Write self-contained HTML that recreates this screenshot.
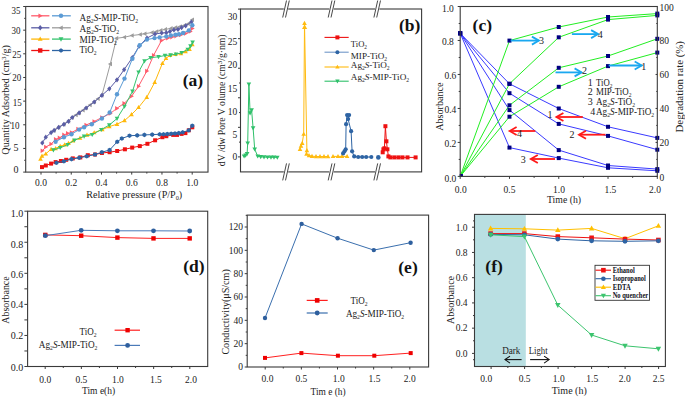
<!DOCTYPE html><html><head><meta charset="utf-8"><style>html,body{margin:0;padding:0;background:#fff;}svg{display:block}</style></head><body>
<svg width="685" height="397" viewBox="0 0 685 397">
<rect width="685" height="397" fill="#fff"/>
<line x1="23.2" y1="172.1" x2="25.7" y2="172.1" stroke="#3a3a3a" stroke-width="1" />
<line x1="24.2" y1="160.27" x2="25.7" y2="160.27" stroke="#3a3a3a" stroke-width="1" />
<line x1="23.2" y1="148.44" x2="25.7" y2="148.44" stroke="#3a3a3a" stroke-width="1" />
<line x1="24.2" y1="136.61" x2="25.7" y2="136.61" stroke="#3a3a3a" stroke-width="1" />
<line x1="23.2" y1="124.79" x2="25.7" y2="124.79" stroke="#3a3a3a" stroke-width="1" />
<line x1="24.2" y1="112.96" x2="25.7" y2="112.96" stroke="#3a3a3a" stroke-width="1" />
<line x1="23.2" y1="101.13" x2="25.7" y2="101.13" stroke="#3a3a3a" stroke-width="1" />
<line x1="24.2" y1="89.3" x2="25.7" y2="89.3" stroke="#3a3a3a" stroke-width="1" />
<line x1="23.2" y1="77.47" x2="25.7" y2="77.47" stroke="#3a3a3a" stroke-width="1" />
<line x1="24.2" y1="65.64" x2="25.7" y2="65.64" stroke="#3a3a3a" stroke-width="1" />
<line x1="23.2" y1="53.81" x2="25.7" y2="53.81" stroke="#3a3a3a" stroke-width="1" />
<line x1="24.2" y1="41.99" x2="25.7" y2="41.99" stroke="#3a3a3a" stroke-width="1" />
<line x1="23.2" y1="30.16" x2="25.7" y2="30.16" stroke="#3a3a3a" stroke-width="1" />
<line x1="24.2" y1="18.33" x2="25.7" y2="18.33" stroke="#3a3a3a" stroke-width="1" />
<line x1="23.2" y1="6.5" x2="25.7" y2="6.5" stroke="#3a3a3a" stroke-width="1" />
<text x="20.6" y="13.6" font-family='"Liberation Serif", serif' font-size="10" text-anchor="end" font-weight="normal" fill="#222" textLength="9" lengthAdjust="spacingAndGlyphs" >35</text>
<text x="20.6" y="33.8" font-family='"Liberation Serif", serif' font-size="10" text-anchor="end" font-weight="normal" fill="#222" textLength="9" lengthAdjust="spacingAndGlyphs" >30</text>
<text x="21.3" y="57.8" font-family='"Liberation Serif", serif' font-size="10" text-anchor="end" font-weight="normal" fill="#222" textLength="9" lengthAdjust="spacingAndGlyphs" >25</text>
<text x="21.3" y="80.5" font-family='"Liberation Serif", serif' font-size="10" text-anchor="end" font-weight="normal" fill="#222" textLength="9" lengthAdjust="spacingAndGlyphs" >20</text>
<text x="21.8" y="106" font-family='"Liberation Serif", serif' font-size="10" text-anchor="end" font-weight="normal" fill="#222" textLength="9" lengthAdjust="spacingAndGlyphs" >15</text>
<text x="19.6" y="128.6" font-family='"Liberation Serif", serif' font-size="10" text-anchor="end" font-weight="normal" fill="#222" textLength="9" lengthAdjust="spacingAndGlyphs" >10</text>
<text x="18.6" y="151.4" font-family='"Liberation Serif", serif' font-size="10" text-anchor="end" font-weight="normal" fill="#222" >5</text>
<text x="18.6" y="173.4" font-family='"Liberation Serif", serif' font-size="10" text-anchor="end" font-weight="normal" fill="#222" >0</text>
<line x1="41" y1="172.1" x2="41" y2="174.6" stroke="#3a3a3a" stroke-width="1" />
<line x1="56.12" y1="172.1" x2="56.12" y2="173.6" stroke="#3a3a3a" stroke-width="1" />
<line x1="71.24" y1="172.1" x2="71.24" y2="174.6" stroke="#3a3a3a" stroke-width="1" />
<line x1="86.36" y1="172.1" x2="86.36" y2="173.6" stroke="#3a3a3a" stroke-width="1" />
<line x1="101.48" y1="172.1" x2="101.48" y2="174.6" stroke="#3a3a3a" stroke-width="1" />
<line x1="116.6" y1="172.1" x2="116.6" y2="173.6" stroke="#3a3a3a" stroke-width="1" />
<line x1="131.72" y1="172.1" x2="131.72" y2="174.6" stroke="#3a3a3a" stroke-width="1" />
<line x1="146.84" y1="172.1" x2="146.84" y2="173.6" stroke="#3a3a3a" stroke-width="1" />
<line x1="161.96" y1="172.1" x2="161.96" y2="174.6" stroke="#3a3a3a" stroke-width="1" />
<line x1="177.08" y1="172.1" x2="177.08" y2="173.6" stroke="#3a3a3a" stroke-width="1" />
<line x1="192.2" y1="172.1" x2="192.2" y2="174.6" stroke="#3a3a3a" stroke-width="1" />
<text x="41" y="185.6" font-family='"Liberation Serif", serif' font-size="9.5" text-anchor="middle" font-weight="normal" fill="#222" >0.0</text>
<text x="71.24" y="185.6" font-family='"Liberation Serif", serif' font-size="9.5" text-anchor="middle" font-weight="normal" fill="#222" >0.2</text>
<text x="101.48" y="185.6" font-family='"Liberation Serif", serif' font-size="9.5" text-anchor="middle" font-weight="normal" fill="#222" >0.4</text>
<text x="131.72" y="185.6" font-family='"Liberation Serif", serif' font-size="9.5" text-anchor="middle" font-weight="normal" fill="#222" >0.6</text>
<text x="161.96" y="185.6" font-family='"Liberation Serif", serif' font-size="9.5" text-anchor="middle" font-weight="normal" fill="#222" >0.8</text>
<text x="192.2" y="185.6" font-family='"Liberation Serif", serif' font-size="9.5" text-anchor="middle" font-weight="normal" fill="#222" >1.0</text>
<text x="134.2" y="198.2" font-family='"Liberation Serif", serif' font-size="10" text-anchor="middle" font-weight="normal" fill="#222" textLength="96" lengthAdjust="spacingAndGlyphs" >Relative pressure (P/P<tspan baseline-shift="-1.8" font-size="62%">0</tspan>)</text>
<text x="8.8" y="99.9" font-family='"Liberation Serif", serif' font-size="10" text-anchor="middle" font-weight="normal" fill="#222" textLength="109.5" lengthAdjust="spacingAndGlyphs" transform="rotate(-90 8.8 99.9)" >Quantity Adsorbed (cm<tspan baseline-shift="3.5" font-size="70%">3</tspan>/g)</text>
<polyline points="54.1,130.4 58.6,127.4 63.9,124.3 68.5,121.3 72.2,117.5 76,115 79.1,112.9 83,110.3 86.1,108 90,105 94.2,102 98,98.7 101.9,95.3 110.3,64 116.5,38.3 124.4,37.2 132,35.5 140.2,34.5 144.8,33.7 152,32.5 156.6,31.5 160.7,30.4 165.3,29.4 170.9,28.4 175.5,27.6 180.1,26.6 184.2,25.5 188.2,23.8 192.3,19.7" fill="none" stroke="#9c9c9c" stroke-width="1" stroke-linejoin="round" />
<polygon points="51.69,130.4 55.78,128.09 55.78,132.71" fill="#9c9c9c"/>
<polygon points="56.19,127.4 60.28,125.09 60.28,129.71" fill="#9c9c9c"/>
<polygon points="61.48,124.3 65.58,121.99 65.58,126.61" fill="#9c9c9c"/>
<polygon points="66.08,121.3 70.18,118.99 70.18,123.61" fill="#9c9c9c"/>
<polygon points="69.78,117.5 73.88,115.19 73.88,119.81" fill="#9c9c9c"/>
<polygon points="73.58,115 77.68,112.69 77.68,117.31" fill="#9c9c9c"/>
<polygon points="76.68,112.9 80.78,110.59 80.78,115.21" fill="#9c9c9c"/>
<polygon points="80.58,110.3 84.68,107.99 84.68,112.61" fill="#9c9c9c"/>
<polygon points="83.68,108 87.78,105.69 87.78,110.31" fill="#9c9c9c"/>
<polygon points="87.58,105 91.68,102.69 91.68,107.31" fill="#9c9c9c"/>
<polygon points="91.78,102 95.88,99.69 95.88,104.31" fill="#9c9c9c"/>
<polygon points="95.58,98.7 99.68,96.39 99.68,101.01" fill="#9c9c9c"/>
<polygon points="99.48,95.3 103.58,92.99 103.58,97.61" fill="#9c9c9c"/>
<polygon points="107.88,64 111.98,61.69 111.98,66.31" fill="#9c9c9c"/>
<polygon points="114.08,38.3 118.18,35.99 118.18,40.61" fill="#9c9c9c"/>
<polygon points="121.98,37.2 126.08,34.89 126.08,39.51" fill="#9c9c9c"/>
<polygon points="129.59,35.5 133.68,33.19 133.68,37.81" fill="#9c9c9c"/>
<polygon points="137.78,34.5 141.88,32.19 141.88,36.81" fill="#9c9c9c"/>
<polygon points="142.39,33.7 146.48,31.39 146.48,36.01" fill="#9c9c9c"/>
<polygon points="149.59,32.5 153.68,30.19 153.68,34.81" fill="#9c9c9c"/>
<polygon points="154.19,31.5 158.28,29.19 158.28,33.81" fill="#9c9c9c"/>
<polygon points="158.28,30.4 162.38,28.09 162.38,32.71" fill="#9c9c9c"/>
<polygon points="162.89,29.4 166.98,27.09 166.98,31.71" fill="#9c9c9c"/>
<polygon points="168.49,28.4 172.58,26.09 172.58,30.71" fill="#9c9c9c"/>
<polygon points="173.09,27.6 177.18,25.29 177.18,29.91" fill="#9c9c9c"/>
<polygon points="177.69,26.6 181.78,24.29 181.78,28.91" fill="#9c9c9c"/>
<polygon points="181.78,25.5 185.88,23.19 185.88,27.81" fill="#9c9c9c"/>
<polygon points="185.78,23.8 189.88,21.49 189.88,26.11" fill="#9c9c9c"/>
<polygon points="189.89,19.7 193.98,17.39 193.98,22.01" fill="#9c9c9c"/>
<polyline points="42.3,142.9 45.8,137.2 51.1,132.6 54.1,130.4 58.6,127.4 63.9,124.3 68.5,121.3 72.2,117.5 79.1,112.9 86.1,108 94.2,102 101.9,95.3 109.3,88.8 117,79.8 124.1,69.7 132.4,57.5 139.1,46.2 147,38 155,34 161.7,33 166.3,32.7 169.9,31.5 173.9,29.9 178,29.4 181.6,27.6 185.7,25.8 191.3,22.1" fill="none" stroke="#5a5da5" stroke-width="1" stroke-linejoin="round" />
<polygon points="42.3,140.28 44.4,142.9 42.3,145.53 40.2,142.9" fill="#5a5da5"/>
<polygon points="45.8,134.57 47.9,137.2 45.8,139.82 43.7,137.2" fill="#5a5da5"/>
<polygon points="51.1,129.97 53.2,132.6 51.1,135.22 49,132.6" fill="#5a5da5"/>
<polygon points="54.1,127.78 56.2,130.4 54.1,133.03 52,130.4" fill="#5a5da5"/>
<polygon points="58.6,124.78 60.7,127.4 58.6,130.03 56.5,127.4" fill="#5a5da5"/>
<polygon points="63.9,121.67 66,124.3 63.9,126.92 61.8,124.3" fill="#5a5da5"/>
<polygon points="68.5,118.67 70.6,121.3 68.5,123.92 66.4,121.3" fill="#5a5da5"/>
<polygon points="72.2,114.88 74.3,117.5 72.2,120.12 70.1,117.5" fill="#5a5da5"/>
<polygon points="79.1,110.28 81.2,112.9 79.1,115.53 77,112.9" fill="#5a5da5"/>
<polygon points="86.1,105.38 88.2,108 86.1,110.62 84,108" fill="#5a5da5"/>
<polygon points="94.2,99.38 96.3,102 94.2,104.62 92.1,102" fill="#5a5da5"/>
<polygon points="101.9,92.67 104,95.3 101.9,97.92 99.8,95.3" fill="#5a5da5"/>
<polygon points="109.3,86.17 111.4,88.8 109.3,91.42 107.2,88.8" fill="#5a5da5"/>
<polygon points="117,77.17 119.1,79.8 117,82.42 114.9,79.8" fill="#5a5da5"/>
<polygon points="124.1,67.08 126.2,69.7 124.1,72.33 122,69.7" fill="#5a5da5"/>
<polygon points="132.4,54.88 134.5,57.5 132.4,60.12 130.3,57.5" fill="#5a5da5"/>
<polygon points="139.1,43.58 141.2,46.2 139.1,48.83 137,46.2" fill="#5a5da5"/>
<polygon points="147,35.38 149.1,38 147,40.62 144.9,38" fill="#5a5da5"/>
<polygon points="155,31.38 157.1,34 155,36.62 152.9,34" fill="#5a5da5"/>
<polygon points="161.7,30.38 163.8,33 161.7,35.62 159.6,33" fill="#5a5da5"/>
<polygon points="166.3,30.08 168.4,32.7 166.3,35.33 164.2,32.7" fill="#5a5da5"/>
<polygon points="169.9,28.88 172,31.5 169.9,34.12 167.8,31.5" fill="#5a5da5"/>
<polygon points="173.9,27.27 176,29.9 173.9,32.52 171.8,29.9" fill="#5a5da5"/>
<polygon points="178,26.77 180.1,29.4 178,32.02 175.9,29.4" fill="#5a5da5"/>
<polygon points="181.6,24.98 183.7,27.6 181.6,30.23 179.5,27.6" fill="#5a5da5"/>
<polygon points="185.7,23.18 187.8,25.8 185.7,28.43 183.6,25.8" fill="#5a5da5"/>
<polygon points="191.3,19.48 193.4,22.1 191.3,24.73 189.2,22.1" fill="#5a5da5"/>
<polyline points="42.3,150.8 45.8,147 51.1,144 55.6,139.4 59.4,137.9 63.9,134.9 67.7,133.4 71.5,132.6 78,129 86.1,125 94.2,121.5 101.9,117.5 110.3,113.5 116.8,108.4 124.1,103.4 131.5,96.3 138.6,86.2 146.8,71.1 153.6,55.3 161.5,40.6 167.8,38.1 171.9,37.1 176,36.1 180.6,35 185.7,33.5 190.3,31.5 192.3,28.4" fill="none" stroke="#ff5c6c" stroke-width="1" stroke-linejoin="round" />
<polygon points="44.71,150.8 40.62,148.49 40.62,153.11" fill="#ff5c6c"/>
<polygon points="48.21,147 44.12,144.69 44.12,149.31" fill="#ff5c6c"/>
<polygon points="53.52,144 49.42,141.69 49.42,146.31" fill="#ff5c6c"/>
<polygon points="58.02,139.4 53.92,137.09 53.92,141.71" fill="#ff5c6c"/>
<polygon points="61.81,137.9 57.72,135.59 57.72,140.21" fill="#ff5c6c"/>
<polygon points="66.31,134.9 62.22,132.59 62.22,137.21" fill="#ff5c6c"/>
<polygon points="70.12,133.4 66.02,131.09 66.02,135.71" fill="#ff5c6c"/>
<polygon points="73.92,132.6 69.82,130.29 69.82,134.91" fill="#ff5c6c"/>
<polygon points="80.42,129 76.32,126.69 76.32,131.31" fill="#ff5c6c"/>
<polygon points="88.52,125 84.42,122.69 84.42,127.31" fill="#ff5c6c"/>
<polygon points="96.62,121.5 92.52,119.19 92.52,123.81" fill="#ff5c6c"/>
<polygon points="104.32,117.5 100.22,115.19 100.22,119.81" fill="#ff5c6c"/>
<polygon points="112.72,113.5 108.62,111.19 108.62,115.81" fill="#ff5c6c"/>
<polygon points="119.22,108.4 115.12,106.09 115.12,110.71" fill="#ff5c6c"/>
<polygon points="126.52,103.4 122.42,101.09 122.42,105.71" fill="#ff5c6c"/>
<polygon points="133.91,96.3 129.82,93.99 129.82,98.61" fill="#ff5c6c"/>
<polygon points="141.01,86.2 136.92,83.89 136.92,88.51" fill="#ff5c6c"/>
<polygon points="149.22,71.1 145.12,68.79 145.12,73.41" fill="#ff5c6c"/>
<polygon points="156.01,55.3 151.92,52.99 151.92,57.61" fill="#ff5c6c"/>
<polygon points="163.91,40.6 159.82,38.29 159.82,42.91" fill="#ff5c6c"/>
<polygon points="170.22,38.1 166.12,35.79 166.12,40.41" fill="#ff5c6c"/>
<polygon points="174.31,37.1 170.22,34.79 170.22,39.41" fill="#ff5c6c"/>
<polygon points="178.41,36.1 174.32,33.79 174.32,38.41" fill="#ff5c6c"/>
<polygon points="183.01,35 178.92,32.69 178.92,37.31" fill="#ff5c6c"/>
<polygon points="188.11,33.5 184.02,31.19 184.02,35.81" fill="#ff5c6c"/>
<polygon points="192.72,31.5 188.62,29.19 188.62,33.81" fill="#ff5c6c"/>
<polygon points="194.72,28.4 190.62,26.09 190.62,30.71" fill="#ff5c6c"/>
<polyline points="55.6,141.7 63.9,137.2 71.5,134.2 79.1,129.6 84.1,127.2 91.8,124.2 101.9,118.5 109.7,112.5 117,94.3 124.5,78.6 132.4,58.7 139.7,45.3 146.9,39.6 154.5,38.1 159.6,37.4 166.3,36.4 170.9,35.5 175.5,34.7 179,34.3 183.1,33 188.8,30.4 192.3,25.3" fill="none" stroke="#5b9bd5" stroke-width="1" stroke-linejoin="round" />
<circle cx="55.6" cy="141.7" r="2.2" fill="#5b9bd5"/>
<circle cx="63.9" cy="137.2" r="2.2" fill="#5b9bd5"/>
<circle cx="71.5" cy="134.2" r="2.2" fill="#5b9bd5"/>
<circle cx="79.1" cy="129.6" r="2.2" fill="#5b9bd5"/>
<circle cx="84.1" cy="127.2" r="2.2" fill="#5b9bd5"/>
<circle cx="91.8" cy="124.2" r="2.2" fill="#5b9bd5"/>
<circle cx="101.9" cy="118.5" r="2.2" fill="#5b9bd5"/>
<circle cx="109.7" cy="112.5" r="2.2" fill="#5b9bd5"/>
<circle cx="117" cy="94.3" r="2.2" fill="#5b9bd5"/>
<circle cx="124.5" cy="78.6" r="2.2" fill="#5b9bd5"/>
<circle cx="132.4" cy="58.7" r="2.2" fill="#5b9bd5"/>
<circle cx="139.7" cy="45.3" r="2.2" fill="#5b9bd5"/>
<circle cx="146.9" cy="39.6" r="2.2" fill="#5b9bd5"/>
<circle cx="154.5" cy="38.1" r="2.2" fill="#5b9bd5"/>
<circle cx="159.6" cy="37.4" r="2.2" fill="#5b9bd5"/>
<circle cx="166.3" cy="36.4" r="2.2" fill="#5b9bd5"/>
<circle cx="170.9" cy="35.5" r="2.2" fill="#5b9bd5"/>
<circle cx="175.5" cy="34.7" r="2.2" fill="#5b9bd5"/>
<circle cx="179" cy="34.3" r="2.2" fill="#5b9bd5"/>
<circle cx="183.1" cy="33" r="2.2" fill="#5b9bd5"/>
<circle cx="188.8" cy="30.4" r="2.2" fill="#5b9bd5"/>
<circle cx="192.3" cy="25.3" r="2.2" fill="#5b9bd5"/>
<polyline points="40.5,159.1 42,156 45.8,153.8 51.1,149.2 55.6,148.5 60.2,146.2 64.7,144.7 68.5,143.2 73,140.9 80,138 87,135 94.2,132.6 102.3,129.6 109.3,126.6 117,124.2 124.5,120.5 131.5,114.5 138.6,107.4 146.8,97.2 154.7,82.4 162.4,63.3 166,58.4 170,55.3 175.5,54.3 181,53.6 185.5,51.5 189.5,49.2 192.3,44.5" fill="none" stroke="#ffb80a" stroke-width="1" stroke-linejoin="round" />
<polygon points="40.5,156.69 42.81,160.78 38.19,160.78" fill="#ffb80a"/>
<polygon points="42,153.59 44.31,157.68 39.69,157.68" fill="#ffb80a"/>
<polygon points="45.8,151.39 48.11,155.48 43.49,155.48" fill="#ffb80a"/>
<polygon points="51.1,146.78 53.41,150.88 48.79,150.88" fill="#ffb80a"/>
<polygon points="55.6,146.09 57.91,150.18 53.29,150.18" fill="#ffb80a"/>
<polygon points="60.2,143.78 62.51,147.88 57.89,147.88" fill="#ffb80a"/>
<polygon points="64.7,142.28 67.01,146.38 62.39,146.38" fill="#ffb80a"/>
<polygon points="68.5,140.78 70.81,144.88 66.19,144.88" fill="#ffb80a"/>
<polygon points="73,138.49 75.31,142.58 70.69,142.58" fill="#ffb80a"/>
<polygon points="80,135.59 82.31,139.68 77.69,139.68" fill="#ffb80a"/>
<polygon points="87,132.59 89.31,136.68 84.69,136.68" fill="#ffb80a"/>
<polygon points="94.2,130.19 96.51,134.28 91.89,134.28" fill="#ffb80a"/>
<polygon points="102.3,127.18 104.61,131.28 99.99,131.28" fill="#ffb80a"/>
<polygon points="109.3,124.18 111.61,128.28 106.99,128.28" fill="#ffb80a"/>
<polygon points="117,121.78 119.31,125.88 114.69,125.88" fill="#ffb80a"/>
<polygon points="124.5,118.08 126.81,122.18 122.19,122.18" fill="#ffb80a"/>
<polygon points="131.5,112.08 133.81,116.18 129.19,116.18" fill="#ffb80a"/>
<polygon points="138.6,104.98 140.91,109.08 136.29,109.08" fill="#ffb80a"/>
<polygon points="146.8,94.78 149.11,98.88 144.49,98.88" fill="#ffb80a"/>
<polygon points="154.7,79.98 157.01,84.08 152.39,84.08" fill="#ffb80a"/>
<polygon points="162.4,60.88 164.71,64.98 160.09,64.98" fill="#ffb80a"/>
<polygon points="166,55.98 168.31,60.08 163.69,60.08" fill="#ffb80a"/>
<polygon points="170,52.88 172.31,56.98 167.69,56.98" fill="#ffb80a"/>
<polygon points="175.5,51.88 177.81,55.98 173.19,55.98" fill="#ffb80a"/>
<polygon points="181,51.19 183.31,55.28 178.69,55.28" fill="#ffb80a"/>
<polygon points="185.5,49.09 187.81,53.18 183.19,53.18" fill="#ffb80a"/>
<polygon points="189.5,46.79 191.81,50.88 187.19,50.88" fill="#ffb80a"/>
<polygon points="192.3,42.09 194.61,46.18 189.99,46.18" fill="#ffb80a"/>
<polyline points="53.4,150 60.2,147.7 67.7,144.7 74.5,140.2 84.1,136.3 92.2,134.6 101.3,129.6 109.3,125 117,118.5 124.5,106.4 132.5,91.3 138.6,72.1 144.5,61 150.6,57.7 158.5,56.8 165,55.5 170.6,55 176,54.2 181.7,52.7 187.8,49.4 190.5,46 192.6,42.3" fill="none" stroke="#35c46e" stroke-width="1" stroke-linejoin="round" />
<polygon points="53.4,152.41 55.71,148.32 51.09,148.32" fill="#35c46e"/>
<polygon points="60.2,150.11 62.51,146.02 57.89,146.02" fill="#35c46e"/>
<polygon points="67.7,147.11 70.01,143.02 65.39,143.02" fill="#35c46e"/>
<polygon points="74.5,142.61 76.81,138.52 72.19,138.52" fill="#35c46e"/>
<polygon points="84.1,138.72 86.41,134.62 81.79,134.62" fill="#35c46e"/>
<polygon points="92.2,137.01 94.51,132.92 89.89,132.92" fill="#35c46e"/>
<polygon points="101.3,132.01 103.61,127.92 98.99,127.92" fill="#35c46e"/>
<polygon points="109.3,127.42 111.61,123.32 106.99,123.32" fill="#35c46e"/>
<polygon points="117,120.92 119.31,116.82 114.69,116.82" fill="#35c46e"/>
<polygon points="124.5,108.82 126.81,104.72 122.19,104.72" fill="#35c46e"/>
<polygon points="132.5,93.72 134.81,89.62 130.19,89.62" fill="#35c46e"/>
<polygon points="138.6,74.52 140.91,70.42 136.29,70.42" fill="#35c46e"/>
<polygon points="144.5,63.41 146.81,59.32 142.19,59.32" fill="#35c46e"/>
<polygon points="150.6,60.12 152.91,56.02 148.29,56.02" fill="#35c46e"/>
<polygon points="158.5,59.21 160.81,55.12 156.19,55.12" fill="#35c46e"/>
<polygon points="165,57.91 167.31,53.82 162.69,53.82" fill="#35c46e"/>
<polygon points="170.6,57.41 172.91,53.32 168.29,53.32" fill="#35c46e"/>
<polygon points="176,56.62 178.31,52.52 173.69,52.52" fill="#35c46e"/>
<polygon points="181.7,55.12 184.01,51.02 179.39,51.02" fill="#35c46e"/>
<polygon points="187.8,51.81 190.11,47.72 185.49,47.72" fill="#35c46e"/>
<polygon points="190.5,48.41 192.81,44.32 188.19,44.32" fill="#35c46e"/>
<polygon points="192.6,44.71 194.91,40.62 190.29,40.62" fill="#35c46e"/>
<polyline points="42,167.1 45.8,165.5 51.1,163.6 55.6,162.1 60.9,161 66.2,159.8 72.8,158.4 80.3,157.4 87.8,155.2 95,154.5 101.9,153 109.6,152.2 117.2,151 124.9,149.3 132.2,147.6 139.8,146.1 147.4,143.8 155.1,140.3 162.4,137.2 166.3,136.2 173.2,134.9 177,134.9 181.6,133.9 185.4,133.1 188.8,130.3 192.3,127.3" fill="none" stroke="#ee1111" stroke-width="1" stroke-linejoin="round" />
<rect x="40" y="165.1" width="4" height="4" fill="#ee1111"/>
<rect x="43.8" y="163.5" width="4" height="4" fill="#ee1111"/>
<rect x="49.1" y="161.6" width="4" height="4" fill="#ee1111"/>
<rect x="53.6" y="160.1" width="4" height="4" fill="#ee1111"/>
<rect x="58.9" y="159" width="4" height="4" fill="#ee1111"/>
<rect x="64.2" y="157.8" width="4" height="4" fill="#ee1111"/>
<rect x="70.8" y="156.4" width="4" height="4" fill="#ee1111"/>
<rect x="78.3" y="155.4" width="4" height="4" fill="#ee1111"/>
<rect x="85.8" y="153.2" width="4" height="4" fill="#ee1111"/>
<rect x="93" y="152.5" width="4" height="4" fill="#ee1111"/>
<rect x="99.9" y="151" width="4" height="4" fill="#ee1111"/>
<rect x="107.6" y="150.2" width="4" height="4" fill="#ee1111"/>
<rect x="115.2" y="149" width="4" height="4" fill="#ee1111"/>
<rect x="122.9" y="147.3" width="4" height="4" fill="#ee1111"/>
<rect x="130.2" y="145.6" width="4" height="4" fill="#ee1111"/>
<rect x="137.8" y="144.1" width="4" height="4" fill="#ee1111"/>
<rect x="145.4" y="141.8" width="4" height="4" fill="#ee1111"/>
<rect x="153.1" y="138.3" width="4" height="4" fill="#ee1111"/>
<rect x="160.4" y="135.2" width="4" height="4" fill="#ee1111"/>
<rect x="164.3" y="134.2" width="4" height="4" fill="#ee1111"/>
<rect x="171.2" y="132.9" width="4" height="4" fill="#ee1111"/>
<rect x="175" y="132.9" width="4" height="4" fill="#ee1111"/>
<rect x="179.6" y="131.9" width="4" height="4" fill="#ee1111"/>
<rect x="183.4" y="131.1" width="4" height="4" fill="#ee1111"/>
<rect x="186.8" y="128.3" width="4" height="4" fill="#ee1111"/>
<rect x="190.3" y="125.3" width="4" height="4" fill="#ee1111"/>
<polyline points="56.4,162.8 63.9,161.3 71.5,159.1 79.2,157.8 86.7,156.3 95,154.5 101.9,152.2 109.6,150 117.2,141.8 121.8,138.5 129.5,135.7 137.2,135.4 144.4,134.9 152.2,134.6 159.7,134.3 163.5,134.3 167.3,134 171.2,133.7 175,133.5 178.8,133.1 182.7,132.3 188.8,130.3 192.3,125.7" fill="none" stroke="#2e64a4" stroke-width="1" stroke-linejoin="round" />
<polygon points="58.39,163.95 56.4,165.1 54.41,163.95 54.41,161.65 56.4,160.5 58.39,161.65" fill="#2e64a4"/>
<polygon points="65.89,162.45 63.9,163.6 61.91,162.45 61.91,160.15 63.9,159 65.89,160.15" fill="#2e64a4"/>
<polygon points="73.49,160.25 71.5,161.4 69.51,160.25 69.51,157.95 71.5,156.8 73.49,157.95" fill="#2e64a4"/>
<polygon points="81.19,158.95 79.2,160.1 77.21,158.95 77.21,156.65 79.2,155.5 81.19,156.65" fill="#2e64a4"/>
<polygon points="88.69,157.45 86.7,158.6 84.71,157.45 84.71,155.15 86.7,154 88.69,155.15" fill="#2e64a4"/>
<polygon points="96.99,155.65 95,156.8 93.01,155.65 93.01,153.35 95,152.2 96.99,153.35" fill="#2e64a4"/>
<polygon points="103.89,153.35 101.9,154.5 99.91,153.35 99.91,151.05 101.9,149.9 103.89,151.05" fill="#2e64a4"/>
<polygon points="111.59,151.15 109.6,152.3 107.61,151.15 107.61,148.85 109.6,147.7 111.59,148.85" fill="#2e64a4"/>
<polygon points="119.19,142.95 117.2,144.1 115.21,142.95 115.21,140.65 117.2,139.5 119.19,140.65" fill="#2e64a4"/>
<polygon points="123.79,139.65 121.8,140.8 119.81,139.65 119.81,137.35 121.8,136.2 123.79,137.35" fill="#2e64a4"/>
<polygon points="131.49,136.85 129.5,138 127.51,136.85 127.51,134.55 129.5,133.4 131.49,134.55" fill="#2e64a4"/>
<polygon points="139.19,136.55 137.2,137.7 135.21,136.55 135.21,134.25 137.2,133.1 139.19,134.25" fill="#2e64a4"/>
<polygon points="146.39,136.05 144.4,137.2 142.41,136.05 142.41,133.75 144.4,132.6 146.39,133.75" fill="#2e64a4"/>
<polygon points="154.19,135.75 152.2,136.9 150.21,135.75 150.21,133.45 152.2,132.3 154.19,133.45" fill="#2e64a4"/>
<polygon points="161.69,135.45 159.7,136.6 157.71,135.45 157.71,133.15 159.7,132 161.69,133.15" fill="#2e64a4"/>
<polygon points="165.49,135.45 163.5,136.6 161.51,135.45 161.51,133.15 163.5,132 165.49,133.15" fill="#2e64a4"/>
<polygon points="169.29,135.15 167.3,136.3 165.31,135.15 165.31,132.85 167.3,131.7 169.29,132.85" fill="#2e64a4"/>
<polygon points="173.19,134.85 171.2,136 169.21,134.85 169.21,132.55 171.2,131.4 173.19,132.55" fill="#2e64a4"/>
<polygon points="176.99,134.65 175,135.8 173.01,134.65 173.01,132.35 175,131.2 176.99,132.35" fill="#2e64a4"/>
<polygon points="180.79,134.25 178.8,135.4 176.81,134.25 176.81,131.95 178.8,130.8 180.79,131.95" fill="#2e64a4"/>
<polygon points="184.69,133.45 182.7,134.6 180.71,133.45 180.71,131.15 182.7,130 184.69,131.15" fill="#2e64a4"/>
<polygon points="190.79,131.45 188.8,132.6 186.81,131.45 186.81,129.15 188.8,128 190.79,129.15" fill="#2e64a4"/>
<polygon points="194.29,126.85 192.3,128 190.31,126.85 190.31,124.55 192.3,123.4 194.29,124.55" fill="#2e64a4"/>
<line x1="31.2" y1="15.8" x2="49.4" y2="15.8" stroke="#ff5c6c" stroke-width="1.3" />
<polygon points="42.73,15.8 38.44,13.38 38.44,18.22" fill="#ff5c6c"/>
<line x1="52" y1="15.8" x2="70.8" y2="15.8" stroke="#5b9bd5" stroke-width="1.3" />
<circle cx="61" cy="15.8" r="2.2" fill="#5b9bd5"/>
<text x="79.6" y="21.2" font-family='"Liberation Serif", serif' font-size="9.5" text-anchor="start" font-weight="normal" fill="#222" textLength="58.5" lengthAdjust="spacingAndGlyphs" >Ag<tspan baseline-shift="-1.8" font-size="62%">2</tspan><tspan font-style="italic">S</tspan>-MIP-TiO<tspan baseline-shift="-1.8" font-size="62%">2</tspan></text>
<line x1="31.2" y1="27.8" x2="49.4" y2="27.8" stroke="#5a5da5" stroke-width="1.3" />
<polygon points="40.2,25.05 42.4,27.8 40.2,30.55 38,27.8" fill="#5a5da5"/>
<line x1="52" y1="27.8" x2="70.8" y2="27.8" stroke="#9c9c9c" stroke-width="1.3" />
<polygon points="58.47,27.8 62.76,25.38 62.76,30.22" fill="#9c9c9c"/>
<text x="79.6" y="32" font-family='"Liberation Serif", serif' font-size="9.5" text-anchor="start" font-weight="normal" fill="#222" textLength="39.6" lengthAdjust="spacingAndGlyphs" >Ag<tspan baseline-shift="-1.8" font-size="62%">2</tspan><tspan font-style="italic">S</tspan>-TiO<tspan baseline-shift="-1.8" font-size="62%">2</tspan></text>
<line x1="31.2" y1="39.1" x2="49.4" y2="39.1" stroke="#ffb80a" stroke-width="1.3" />
<polygon points="40.2,36.57 42.62,40.86 37.78,40.86" fill="#ffb80a"/>
<line x1="52" y1="39.1" x2="70.8" y2="39.1" stroke="#35c46e" stroke-width="1.3" />
<polygon points="61,41.63 63.42,37.34 58.58,37.34" fill="#35c46e"/>
<text x="79.6" y="43.1" font-family='"Liberation Serif", serif' font-size="9.5" text-anchor="start" font-weight="normal" fill="#222" textLength="37.2" lengthAdjust="spacingAndGlyphs" >MIP-TiO<tspan baseline-shift="-1.8" font-size="62%">2</tspan></text>
<line x1="31.2" y1="50.5" x2="49.4" y2="50.5" stroke="#ee1111" stroke-width="1.3" />
<rect x="38" y="48.3" width="4.4" height="4.4" fill="#ee1111"/>
<line x1="52" y1="50.5" x2="70.8" y2="50.5" stroke="#2e64a4" stroke-width="1.3" />
<polygon points="62.91,51.6 61,52.7 59.09,51.6 59.09,49.4 61,48.3 62.91,49.4" fill="#2e64a4"/>
<text x="79.6" y="53.4" font-family='"Liberation Serif", serif' font-size="9.5" text-anchor="start" font-weight="normal" fill="#222" textLength="17" lengthAdjust="spacingAndGlyphs" >TiO<tspan baseline-shift="-1.8" font-size="62%">2</tspan></text>
<text x="193" y="86.4" font-family='"Liberation Serif", serif' font-size="17.5" text-anchor="middle" font-weight="bold" fill="#111" >(a)</text>
<rect x="25.7" y="6.5" width="182.3" height="165.6" fill="none" stroke="#3a3a3a" stroke-width="1.1"/>
<rect x="240.5" y="9.0" width="181.10000000000002" height="162.9" fill="none" stroke="#3a3a3a" stroke-width="1.1"/>
<line x1="238" y1="9.1" x2="240.5" y2="9.1" stroke="#3a3a3a" stroke-width="1" />
<line x1="239" y1="23.88" x2="240.5" y2="23.88" stroke="#3a3a3a" stroke-width="1" />
<line x1="238" y1="38.66" x2="240.5" y2="38.66" stroke="#3a3a3a" stroke-width="1" />
<line x1="239" y1="53.44" x2="240.5" y2="53.44" stroke="#3a3a3a" stroke-width="1" />
<line x1="238" y1="68.22" x2="240.5" y2="68.22" stroke="#3a3a3a" stroke-width="1" />
<line x1="239" y1="83" x2="240.5" y2="83" stroke="#3a3a3a" stroke-width="1" />
<line x1="238" y1="97.78" x2="240.5" y2="97.78" stroke="#3a3a3a" stroke-width="1" />
<line x1="239" y1="112.56" x2="240.5" y2="112.56" stroke="#3a3a3a" stroke-width="1" />
<line x1="238" y1="127.34" x2="240.5" y2="127.34" stroke="#3a3a3a" stroke-width="1" />
<line x1="239" y1="142.12" x2="240.5" y2="142.12" stroke="#3a3a3a" stroke-width="1" />
<line x1="238" y1="156.9" x2="240.5" y2="156.9" stroke="#3a3a3a" stroke-width="1" />
<text x="237.3" y="20.3" font-family='"Liberation Serif", serif' font-size="9.5" text-anchor="end" font-weight="normal" fill="#222" >30</text>
<text x="237.3" y="44.5" font-family='"Liberation Serif", serif' font-size="9.5" text-anchor="end" font-weight="normal" fill="#222" >25</text>
<text x="237.3" y="68" font-family='"Liberation Serif", serif' font-size="9.5" text-anchor="end" font-weight="normal" fill="#222" >20</text>
<text x="237.3" y="92.1" font-family='"Liberation Serif", serif' font-size="9.5" text-anchor="end" font-weight="normal" fill="#222" >15</text>
<text x="237.3" y="114.8" font-family='"Liberation Serif", serif' font-size="9.5" text-anchor="end" font-weight="normal" fill="#222" >10</text>
<text x="237.3" y="137.7" font-family='"Liberation Serif", serif' font-size="9.5" text-anchor="end" font-weight="normal" fill="#222" >5</text>
<text x="237.3" y="159.7" font-family='"Liberation Serif", serif' font-size="9.5" text-anchor="end" font-weight="normal" fill="#222" >0</text>
<text x="225.5" y="100.3" font-family='"Liberation Serif", serif' font-size="10" text-anchor="middle" font-weight="normal" fill="#222" textLength="131.8" lengthAdjust="spacingAndGlyphs" transform="rotate(-90 225.5 100.3)" >dV /dw Pore V olume (cm<tspan baseline-shift="3.5" font-size="70%">3</tspan>/g·nm)</text>
<rect x="283.8" y="7.0" width="4.4" height="4" fill="#fff"/>
<line x1="282.7" y1="17.5" x2="286.5" y2="0.5" stroke="#333" stroke-width="0.9" />
<line x1="285.5" y1="17.5" x2="289.3" y2="0.5" stroke="#333" stroke-width="0.9" />
<rect x="283.8" y="169.9" width="4.4" height="4" fill="#fff"/>
<line x1="282.7" y1="180.4" x2="286.5" y2="163.4" stroke="#333" stroke-width="0.9" />
<line x1="285.5" y1="180.4" x2="289.3" y2="163.4" stroke="#333" stroke-width="0.9" />
<rect x="329.3" y="7.0" width="4.4" height="4" fill="#fff"/>
<line x1="328.2" y1="17.5" x2="332" y2="0.5" stroke="#333" stroke-width="0.9" />
<line x1="331" y1="17.5" x2="334.8" y2="0.5" stroke="#333" stroke-width="0.9" />
<rect x="329.3" y="169.9" width="4.4" height="4" fill="#fff"/>
<line x1="328.2" y1="180.4" x2="332" y2="163.4" stroke="#333" stroke-width="0.9" />
<line x1="331" y1="180.4" x2="334.8" y2="163.4" stroke="#333" stroke-width="0.9" />
<rect x="375.0" y="7.0" width="4.4" height="4" fill="#fff"/>
<line x1="373.9" y1="17.5" x2="377.7" y2="0.5" stroke="#333" stroke-width="0.9" />
<line x1="376.7" y1="17.5" x2="380.5" y2="0.5" stroke="#333" stroke-width="0.9" />
<rect x="375.0" y="169.9" width="4.4" height="4" fill="#fff"/>
<line x1="373.9" y1="180.4" x2="377.7" y2="163.4" stroke="#333" stroke-width="0.9" />
<line x1="376.7" y1="180.4" x2="380.5" y2="163.4" stroke="#333" stroke-width="0.9" />
<polyline points="244.1,156.2 245.6,155.3 247.1,153.8 247.7,143.2 248.9,84.2 250.1,113 251.6,110 253.1,128 254.7,149.2 257.7,156.2 260.7,156.8 264,157 267.5,157.2 271,157.3 274,157.3 277.3,157.4" fill="none" stroke="#2fc06a" stroke-width="1" stroke-linejoin="round" />
<polygon points="244.1,158.61 246.41,154.52 241.79,154.52" fill="#2fc06a"/>
<polygon points="245.6,157.72 247.91,153.62 243.29,153.62" fill="#2fc06a"/>
<polygon points="247.1,156.22 249.41,152.12 244.79,152.12" fill="#2fc06a"/>
<polygon points="247.7,145.61 250.01,141.52 245.39,141.52" fill="#2fc06a"/>
<polygon points="248.9,86.62 251.21,82.52 246.59,82.52" fill="#2fc06a"/>
<polygon points="250.1,115.42 252.41,111.32 247.79,111.32" fill="#2fc06a"/>
<polygon points="251.6,112.42 253.91,108.32 249.29,108.32" fill="#2fc06a"/>
<polygon points="253.1,130.41 255.41,126.32 250.79,126.32" fill="#2fc06a"/>
<polygon points="254.7,151.61 257.01,147.52 252.39,147.52" fill="#2fc06a"/>
<polygon points="257.7,158.61 260.01,154.52 255.39,154.52" fill="#2fc06a"/>
<polygon points="260.7,159.22 263.01,155.12 258.39,155.12" fill="#2fc06a"/>
<polygon points="264,159.41 266.31,155.32 261.69,155.32" fill="#2fc06a"/>
<polygon points="267.5,159.61 269.81,155.52 265.19,155.52" fill="#2fc06a"/>
<polygon points="271,159.72 273.31,155.62 268.69,155.62" fill="#2fc06a"/>
<polygon points="274,159.72 276.31,155.62 271.69,155.62" fill="#2fc06a"/>
<polygon points="277.3,159.81 279.61,155.72 274.99,155.72" fill="#2fc06a"/>
<polyline points="300,149.2 301,146 302.2,143.2 303.7,134.1 304.5,23.2 306.9,150.5 306.5,154 309,155.5 312,156.2 316,156.5 320,156.5 324,156.5 328,156.5" fill="none" stroke="#ffbb10" stroke-width="1" stroke-linejoin="round" />
<polygon points="300,146.78 302.31,150.88 297.69,150.88" fill="#ffbb10"/>
<polygon points="301,143.59 303.31,147.68 298.69,147.68" fill="#ffbb10"/>
<polygon points="302.2,140.78 304.51,144.88 299.89,144.88" fill="#ffbb10"/>
<polygon points="303.7,131.69 306.01,135.78 301.39,135.78" fill="#ffbb10"/>
<polygon points="304.5,20.79 306.81,24.88 302.19,24.88" fill="#ffbb10"/>
<polygon points="306.9,148.09 309.21,152.18 304.59,152.18" fill="#ffbb10"/>
<polygon points="306.5,151.59 308.81,155.68 304.19,155.68" fill="#ffbb10"/>
<polygon points="309,153.09 311.31,157.18 306.69,157.18" fill="#ffbb10"/>
<polygon points="312,153.78 314.31,157.88 309.69,157.88" fill="#ffbb10"/>
<polygon points="316,154.09 318.31,158.18 313.69,158.18" fill="#ffbb10"/>
<polygon points="320,154.09 322.31,158.18 317.69,158.18" fill="#ffbb10"/>
<polygon points="324,154.09 326.31,158.18 321.69,158.18" fill="#ffbb10"/>
<polygon points="328,154.09 330.31,158.18 325.69,158.18" fill="#ffbb10"/>
<polygon points="304.6,24.44 307.24,29.12 301.96,29.12" fill="#ffbb10"/>
<polyline points="333,156.4 338,156.4 342,156.4 347.1,156.4" fill="none" stroke="#ffbb10" stroke-width="1" stroke-linejoin="round" />
<polygon points="333,153.99 335.31,158.08 330.69,158.08" fill="#ffbb10"/>
<polygon points="338,153.99 340.31,158.08 335.69,158.08" fill="#ffbb10"/>
<polygon points="342,153.99 344.31,158.08 339.69,158.08" fill="#ffbb10"/>
<polygon points="347.1,153.99 349.41,158.08 344.79,158.08" fill="#ffbb10"/>
<polyline points="343.1,153.4 344.5,151.3 345.7,149.3 346.1,124.2 347.1,115.1 349.1,115.1 348.1,119.1 351.1,131.2 352.1,151.3 354.2,156.4 358.2,157 362.2,157 366.2,157 371.3,157" fill="none" stroke="#2e64a4" stroke-width="1" stroke-linejoin="round" />
<circle cx="343.1" cy="153.4" r="2.1" fill="#2e64a4"/>
<circle cx="344.5" cy="151.3" r="2.1" fill="#2e64a4"/>
<circle cx="345.7" cy="149.3" r="2.1" fill="#2e64a4"/>
<circle cx="346.1" cy="124.2" r="2.1" fill="#2e64a4"/>
<circle cx="347.1" cy="115.1" r="2.1" fill="#2e64a4"/>
<circle cx="349.1" cy="115.1" r="2.1" fill="#2e64a4"/>
<circle cx="348.1" cy="119.1" r="2.1" fill="#2e64a4"/>
<circle cx="351.1" cy="131.2" r="2.1" fill="#2e64a4"/>
<circle cx="352.1" cy="151.3" r="2.1" fill="#2e64a4"/>
<circle cx="354.2" cy="156.4" r="2.1" fill="#2e64a4"/>
<circle cx="358.2" cy="157" r="2.1" fill="#2e64a4"/>
<circle cx="362.2" cy="157" r="2.1" fill="#2e64a4"/>
<circle cx="366.2" cy="157" r="2.1" fill="#2e64a4"/>
<circle cx="371.3" cy="157" r="2.1" fill="#2e64a4"/>
<circle cx="378.3" cy="157.4" r="2.3" fill="#2e64a4"/>
<polyline points="382.7,152.3 383.4,149.3 384.4,148.3 385.4,126.2 386.4,141.3 387.4,149.3 388.4,156.4 390.4,157.4 394.4,157.4 398.5,157.4 402.5,157.4 407.5,157.4 415.6,157.4" fill="none" stroke="#ee1111" stroke-width="1" stroke-linejoin="round" />
<rect x="380.7" y="150.3" width="4" height="4" fill="#ee1111"/>
<rect x="381.4" y="147.3" width="4" height="4" fill="#ee1111"/>
<rect x="382.4" y="146.3" width="4" height="4" fill="#ee1111"/>
<rect x="383.4" y="124.2" width="4" height="4" fill="#ee1111"/>
<rect x="384.4" y="139.3" width="4" height="4" fill="#ee1111"/>
<rect x="385.4" y="147.3" width="4" height="4" fill="#ee1111"/>
<rect x="386.4" y="154.4" width="4" height="4" fill="#ee1111"/>
<rect x="388.4" y="155.4" width="4" height="4" fill="#ee1111"/>
<rect x="392.4" y="155.4" width="4" height="4" fill="#ee1111"/>
<rect x="396.5" y="155.4" width="4" height="4" fill="#ee1111"/>
<rect x="400.5" y="155.4" width="4" height="4" fill="#ee1111"/>
<rect x="405.5" y="155.4" width="4" height="4" fill="#ee1111"/>
<rect x="413.6" y="155.4" width="4" height="4" fill="#ee1111"/>
<line x1="324.5" y1="37.4" x2="348.7" y2="37.4" stroke="#ee1111" stroke-width="1.1" />
<rect x="335.4" y="35.4" width="4" height="4" fill="#ee1111"/>
<line x1="324.5" y1="52.2" x2="348.7" y2="52.2" stroke="#7097c8" stroke-width="1.1" />
<circle cx="337.4" cy="52.2" r="2" fill="#2e64a4"/>
<line x1="324.5" y1="67" x2="348.7" y2="67" stroke="#ffbb10" stroke-width="1.1" />
<polygon points="337.4,64.7 339.6,68.6 335.2,68.6" fill="#ffbb10"/>
<line x1="324.5" y1="81.2" x2="348.7" y2="81.2" stroke="#2fc06a" stroke-width="1.1" />
<polygon points="337.4,83.5 339.6,79.6 335.2,79.6" fill="#2fc06a"/>
<text x="350.8" y="46.7" font-family='"Liberation Serif", serif' font-size="9.2" text-anchor="start" font-weight="normal" fill="#222" textLength="16.2" lengthAdjust="spacingAndGlyphs" >TiO<tspan baseline-shift="-1.8" font-size="62%">2</tspan></text>
<text x="350.8" y="58.7" font-family='"Liberation Serif", serif' font-size="9.2" text-anchor="start" font-weight="normal" fill="#222" textLength="36.3" lengthAdjust="spacingAndGlyphs" >MIP-TiO<tspan baseline-shift="-1.8" font-size="62%">2</tspan></text>
<text x="350.8" y="68.1" font-family='"Liberation Serif", serif' font-size="9.2" text-anchor="start" font-weight="normal" fill="#222" textLength="38.8" lengthAdjust="spacingAndGlyphs" >Ag<tspan baseline-shift="-1.8" font-size="62%">2</tspan><tspan font-style="italic">S</tspan>-TiO<tspan baseline-shift="-1.8" font-size="62%">2</tspan></text>
<text x="350.8" y="80.1" font-family='"Liberation Serif", serif' font-size="9.2" text-anchor="start" font-weight="normal" fill="#222" textLength="58.3" lengthAdjust="spacingAndGlyphs" >Ag<tspan baseline-shift="-1.8" font-size="62%">2</tspan><tspan font-style="italic">S</tspan>-MIP-TiO<tspan baseline-shift="-1.8" font-size="62%">2</tspan></text>
<text x="409.7" y="30.6" font-family='"Liberation Serif", serif' font-size="17.5" text-anchor="middle" font-weight="bold" fill="#111" >(b)</text>
<line x1="457.7" y1="176.4" x2="460.2" y2="176.4" stroke="#3a3a3a" stroke-width="1" />
<line x1="655.55" y1="176.4" x2="657.3" y2="176.4" stroke="#3a3a3a" stroke-width="1" />
<line x1="458.7" y1="159.41" x2="460.2" y2="159.41" stroke="#3a3a3a" stroke-width="1" />
<line x1="656.25" y1="159.41" x2="657.3" y2="159.41" stroke="#3a3a3a" stroke-width="1" />
<line x1="457.7" y1="142.42" x2="460.2" y2="142.42" stroke="#3a3a3a" stroke-width="1" />
<line x1="655.55" y1="142.42" x2="657.3" y2="142.42" stroke="#3a3a3a" stroke-width="1" />
<line x1="458.7" y1="125.43" x2="460.2" y2="125.43" stroke="#3a3a3a" stroke-width="1" />
<line x1="656.25" y1="125.43" x2="657.3" y2="125.43" stroke="#3a3a3a" stroke-width="1" />
<line x1="457.7" y1="108.44" x2="460.2" y2="108.44" stroke="#3a3a3a" stroke-width="1" />
<line x1="655.55" y1="108.44" x2="657.3" y2="108.44" stroke="#3a3a3a" stroke-width="1" />
<line x1="458.7" y1="91.45" x2="460.2" y2="91.45" stroke="#3a3a3a" stroke-width="1" />
<line x1="656.25" y1="91.45" x2="657.3" y2="91.45" stroke="#3a3a3a" stroke-width="1" />
<line x1="457.7" y1="74.46" x2="460.2" y2="74.46" stroke="#3a3a3a" stroke-width="1" />
<line x1="655.55" y1="74.46" x2="657.3" y2="74.46" stroke="#3a3a3a" stroke-width="1" />
<line x1="458.7" y1="57.47" x2="460.2" y2="57.47" stroke="#3a3a3a" stroke-width="1" />
<line x1="656.25" y1="57.47" x2="657.3" y2="57.47" stroke="#3a3a3a" stroke-width="1" />
<line x1="457.7" y1="40.48" x2="460.2" y2="40.48" stroke="#3a3a3a" stroke-width="1" />
<line x1="655.55" y1="40.48" x2="657.3" y2="40.48" stroke="#3a3a3a" stroke-width="1" />
<line x1="458.7" y1="23.49" x2="460.2" y2="23.49" stroke="#3a3a3a" stroke-width="1" />
<line x1="656.25" y1="23.49" x2="657.3" y2="23.49" stroke="#3a3a3a" stroke-width="1" />
<line x1="457.7" y1="6.5" x2="460.2" y2="6.5" stroke="#3a3a3a" stroke-width="1" />
<line x1="655.55" y1="6.5" x2="657.3" y2="6.5" stroke="#3a3a3a" stroke-width="1" />
<text x="456.3" y="181.7" font-family='"Liberation Serif", serif' font-size="9.5" text-anchor="end" font-weight="normal" fill="#222" >0.0</text>
<text x="659.5" y="180.7" font-family='"Liberation Serif", serif' font-size="9.5" text-anchor="start" font-weight="normal" fill="#222" >0</text>
<text x="456.3" y="146.72" font-family='"Liberation Serif", serif' font-size="9.5" text-anchor="end" font-weight="normal" fill="#222" >0.2</text>
<text x="659.5" y="145.72" font-family='"Liberation Serif", serif' font-size="9.5" text-anchor="start" font-weight="normal" fill="#222" >20</text>
<text x="456.3" y="112.74" font-family='"Liberation Serif", serif' font-size="9.5" text-anchor="end" font-weight="normal" fill="#222" >0.4</text>
<text x="659.5" y="111.74" font-family='"Liberation Serif", serif' font-size="9.5" text-anchor="start" font-weight="normal" fill="#222" >40</text>
<text x="456.3" y="78.76" font-family='"Liberation Serif", serif' font-size="9.5" text-anchor="end" font-weight="normal" fill="#222" >0.6</text>
<text x="659.5" y="77.76" font-family='"Liberation Serif", serif' font-size="9.5" text-anchor="start" font-weight="normal" fill="#222" >60</text>
<text x="453.8" y="44.78" font-family='"Liberation Serif", serif' font-size="9.5" text-anchor="end" font-weight="normal" fill="#222" >0.8</text>
<text x="659.5" y="43.78" font-family='"Liberation Serif", serif' font-size="9.5" text-anchor="start" font-weight="normal" fill="#222" >80</text>
<text x="453.8" y="12.3" font-family='"Liberation Serif", serif' font-size="9.5" text-anchor="end" font-weight="normal" fill="#222" >1.0</text>
<text x="659.5" y="10.6" font-family='"Liberation Serif", serif' font-size="9.5" text-anchor="start" font-weight="normal" fill="#222" >100</text>
<line x1="460.2" y1="176.4" x2="460.2" y2="178.9" stroke="#3a3a3a" stroke-width="1" />
<line x1="484.84" y1="176.4" x2="484.84" y2="177.9" stroke="#3a3a3a" stroke-width="1" />
<line x1="509.47" y1="176.4" x2="509.47" y2="178.9" stroke="#3a3a3a" stroke-width="1" />
<line x1="534.11" y1="176.4" x2="534.11" y2="177.9" stroke="#3a3a3a" stroke-width="1" />
<line x1="558.75" y1="176.4" x2="558.75" y2="178.9" stroke="#3a3a3a" stroke-width="1" />
<line x1="583.39" y1="176.4" x2="583.39" y2="177.9" stroke="#3a3a3a" stroke-width="1" />
<line x1="608.02" y1="176.4" x2="608.02" y2="178.9" stroke="#3a3a3a" stroke-width="1" />
<line x1="632.66" y1="176.4" x2="632.66" y2="177.9" stroke="#3a3a3a" stroke-width="1" />
<line x1="657.3" y1="176.4" x2="657.3" y2="178.9" stroke="#3a3a3a" stroke-width="1" />
<text x="460.7" y="192.6" font-family='"Liberation Serif", serif' font-size="9.5" text-anchor="middle" font-weight="normal" fill="#222" >0.0</text>
<text x="509.47" y="192.6" font-family='"Liberation Serif", serif' font-size="9.5" text-anchor="middle" font-weight="normal" fill="#222" >0.5</text>
<text x="559.05" y="192.6" font-family='"Liberation Serif", serif' font-size="9.5" text-anchor="middle" font-weight="normal" fill="#222" >1.0</text>
<text x="610.42" y="192.6" font-family='"Liberation Serif", serif' font-size="9.5" text-anchor="middle" font-weight="normal" fill="#222" >1.5</text>
<text x="655" y="192.6" font-family='"Liberation Serif", serif' font-size="9.5" text-anchor="middle" font-weight="normal" fill="#222" >2.0</text>
<text x="564" y="203.3" font-family='"Liberation Serif", serif' font-size="10" text-anchor="middle" font-weight="normal" fill="#222" textLength="34" lengthAdjust="spacingAndGlyphs" >Time (h)</text>
<text x="443.2" y="106.6" font-family='"Liberation Serif", serif' font-size="10" text-anchor="middle" font-weight="normal" fill="#222" textLength="48.5" lengthAdjust="spacingAndGlyphs" transform="rotate(-90 443.2 106.6)" >Absorbance</text>
<text x="683.2" y="86.8" font-family='"Liberation Serif", serif' font-size="10" text-anchor="middle" font-weight="normal" fill="#222" textLength="91.4" lengthAdjust="spacingAndGlyphs" transform="rotate(-90 683.2 86.8)" >Degradation rate (%)</text>
<polyline points="460.2,33.3 509.47,83.8 558.75,108.5 608.02,126.8 657.3,137.9" fill="none" stroke="#3a3aff" stroke-width="1" stroke-linejoin="round" />
<polyline points="460.2,33.3 509.47,93.2 558.75,123.9 608.02,135.9 657.3,149.7" fill="none" stroke="#3a3aff" stroke-width="1" stroke-linejoin="round" />
<polyline points="460.2,33.3 509.47,147.6 558.75,158.1 608.02,167.8 657.3,170.8" fill="none" stroke="#3a3aff" stroke-width="1" stroke-linejoin="round" />
<polyline points="460.2,33.3 509.47,110.1 558.75,150.1 608.02,165.5 657.3,169.1" fill="none" stroke="#3a3aff" stroke-width="1" stroke-linejoin="round" />
<polyline points="460.2,176.4 509.47,116.7 558.75,86.8 608.02,66.1 657.3,52.6" fill="none" stroke="#22ee22" stroke-width="1" stroke-linejoin="round" />
<polyline points="460.2,176.4 509.47,105.3 558.75,67.8 608.02,56 657.3,38.8" fill="none" stroke="#22ee22" stroke-width="1" stroke-linejoin="round" />
<polyline points="460.2,176.4 509.47,40.6 558.75,27 608.02,17 657.3,13.6" fill="none" stroke="#22ee22" stroke-width="1" stroke-linejoin="round" />
<polyline points="460.2,176.4 509.47,83.8 558.75,37.3 608.02,19.6 657.3,15.4" fill="none" stroke="#22ee22" stroke-width="1" stroke-linejoin="round" />
<rect x="458.2" y="31.3" width="4" height="4" fill="#000080"/>
<rect x="507.47" y="81.8" width="4" height="4" fill="#000080"/>
<rect x="556.75" y="106.5" width="4" height="4" fill="#000080"/>
<rect x="606.02" y="124.8" width="4" height="4" fill="#000080"/>
<rect x="655.3" y="135.9" width="4" height="4" fill="#000080"/>
<rect x="458.2" y="31.3" width="4" height="4" fill="#000080"/>
<rect x="507.47" y="91.2" width="4" height="4" fill="#000080"/>
<rect x="556.75" y="121.9" width="4" height="4" fill="#000080"/>
<rect x="606.02" y="133.9" width="4" height="4" fill="#000080"/>
<rect x="655.3" y="147.7" width="4" height="4" fill="#000080"/>
<rect x="458.2" y="31.3" width="4" height="4" fill="#000080"/>
<rect x="507.47" y="145.6" width="4" height="4" fill="#000080"/>
<rect x="556.75" y="156.1" width="4" height="4" fill="#000080"/>
<rect x="606.02" y="165.8" width="4" height="4" fill="#000080"/>
<rect x="655.3" y="168.8" width="4" height="4" fill="#000080"/>
<rect x="458.2" y="31.3" width="4" height="4" fill="#000080"/>
<rect x="507.47" y="108.1" width="4" height="4" fill="#000080"/>
<rect x="556.75" y="148.1" width="4" height="4" fill="#000080"/>
<rect x="606.02" y="163.5" width="4" height="4" fill="#000080"/>
<rect x="655.3" y="167.1" width="4" height="4" fill="#000080"/>
<rect x="459.9" y="174.1" width="2.6" height="2.6" fill="#000080"/>
<rect x="507.47" y="114.7" width="4" height="4" fill="#000080"/>
<rect x="556.75" y="84.8" width="4" height="4" fill="#000080"/>
<rect x="606.02" y="64.1" width="4" height="4" fill="#000080"/>
<rect x="655.3" y="50.6" width="4" height="4" fill="#000080"/>
<rect x="459.9" y="174.1" width="2.6" height="2.6" fill="#000080"/>
<rect x="507.47" y="103.3" width="4" height="4" fill="#000080"/>
<rect x="556.75" y="65.8" width="4" height="4" fill="#000080"/>
<rect x="606.02" y="54" width="4" height="4" fill="#000080"/>
<rect x="655.3" y="36.8" width="4" height="4" fill="#000080"/>
<rect x="459.9" y="174.1" width="2.6" height="2.6" fill="#000080"/>
<rect x="507.47" y="38.6" width="4" height="4" fill="#000080"/>
<rect x="556.75" y="25" width="4" height="4" fill="#000080"/>
<rect x="606.02" y="15" width="4" height="4" fill="#000080"/>
<rect x="655.3" y="11.6" width="4" height="4" fill="#000080"/>
<rect x="459.9" y="174.1" width="2.6" height="2.6" fill="#000080"/>
<rect x="507.47" y="81.8" width="4" height="4" fill="#000080"/>
<rect x="556.75" y="35.3" width="4" height="4" fill="#000080"/>
<rect x="606.02" y="17.6" width="4" height="4" fill="#000080"/>
<rect x="655.3" y="13.4" width="4" height="4" fill="#000080"/>
<rect x="460.2" y="6.5" width="197.09999999999997" height="169.9" fill="none" stroke="#3a3a3a" stroke-width="1.1"/>
<line x1="510.6" y1="40.6" x2="538.9" y2="40.6" stroke="#1aa8f0" stroke-width="1.8" />
<polyline points="531.9,36.6 538.9,40.6 531.9,44.6" fill="none" stroke="#1aa8f0" stroke-width="1.8"/>
<text x="541.5" y="44" font-family='"Liberation Serif", serif' font-size="10" text-anchor="middle" font-weight="normal" fill="#222" >3</text>
<line x1="571.9" y1="34.1" x2="598.1" y2="34.1" stroke="#1aa8f0" stroke-width="1.8" />
<polyline points="591.1,30.1 598.1,34.1 591.1,38.1" fill="none" stroke="#1aa8f0" stroke-width="1.8"/>
<text x="600.2" y="37.5" font-family='"Liberation Serif", serif' font-size="10" text-anchor="middle" font-weight="normal" fill="#222" >4</text>
<line x1="555.5" y1="72.4" x2="581.6" y2="72.4" stroke="#1aa8f0" stroke-width="1.8" />
<polyline points="574.6,68.4 581.6,72.4 574.6,76.4" fill="none" stroke="#1aa8f0" stroke-width="1.8"/>
<text x="584.5" y="74" font-family='"Liberation Serif", serif' font-size="10" text-anchor="middle" font-weight="normal" fill="#222" >2</text>
<line x1="608.7" y1="65.5" x2="641.7" y2="65.5" stroke="#1aa8f0" stroke-width="1.8" />
<polyline points="634.7,61.5 641.7,65.5 634.7,69.5" fill="none" stroke="#1aa8f0" stroke-width="1.8"/>
<text x="643.8" y="69.5" font-family='"Liberation Serif", serif' font-size="10" text-anchor="middle" font-weight="normal" fill="#222" >1</text>
<line x1="582.8" y1="117" x2="556.4" y2="117" stroke="#ff1a1a" stroke-width="1.8" />
<polyline points="563.4,113 556.4,117 563.4,121" fill="none" stroke="#ff1a1a" stroke-width="1.8"/>
<text x="550" y="118" font-family='"Liberation Serif", serif' font-size="10" text-anchor="middle" font-weight="normal" fill="#222" >1</text>
<line x1="605.5" y1="134.7" x2="579" y2="134.7" stroke="#ff1a1a" stroke-width="1.8" />
<polyline points="586,130.7 579,134.7 586,138.7" fill="none" stroke="#ff1a1a" stroke-width="1.8"/>
<text x="572" y="138.2" font-family='"Liberation Serif", serif' font-size="10" text-anchor="middle" font-weight="normal" fill="#222" >2</text>
<line x1="535.3" y1="131" x2="509.6" y2="131" stroke="#ff1a1a" stroke-width="1.8" />
<polyline points="516.6,127 509.6,131 516.6,135" fill="none" stroke="#ff1a1a" stroke-width="1.8"/>
<text x="519.5" y="137" font-family='"Liberation Serif", serif' font-size="10" text-anchor="middle" font-weight="normal" fill="#222" >4</text>
<line x1="555" y1="159" x2="530.8" y2="159" stroke="#ff1a1a" stroke-width="1.8" />
<polyline points="537.8,155 530.8,159 537.8,163" fill="none" stroke="#ff1a1a" stroke-width="1.8"/>
<text x="523.2" y="163" font-family='"Liberation Serif", serif' font-size="10" text-anchor="middle" font-weight="normal" fill="#222" >3</text>
<text x="587.8" y="85.6" font-family='"Liberation Serif", serif' font-size="10" text-anchor="start" font-weight="normal" fill="#222" >1</text>
<text x="596" y="85.6" font-family='"Liberation Serif", serif' font-size="10" text-anchor="start" font-weight="normal" fill="#222" textLength="16.4" lengthAdjust="spacingAndGlyphs" >TiO<tspan baseline-shift="-1.8" font-size="62%">2</tspan></text>
<text x="587.8" y="95.4" font-family='"Liberation Serif", serif' font-size="10" text-anchor="start" font-weight="normal" fill="#222" >2</text>
<text x="596" y="95.4" font-family='"Liberation Serif", serif' font-size="10" text-anchor="start" font-weight="normal" fill="#222" textLength="35.5" lengthAdjust="spacingAndGlyphs" >MIP-TiO<tspan baseline-shift="-1.8" font-size="62%">2</tspan></text>
<text x="587.8" y="105.3" font-family='"Liberation Serif", serif' font-size="10" text-anchor="start" font-weight="normal" fill="#222" >3</text>
<text x="596" y="105.3" font-family='"Liberation Serif", serif' font-size="10" text-anchor="start" font-weight="normal" fill="#222" textLength="39" lengthAdjust="spacingAndGlyphs" >Ag<tspan baseline-shift="-1.8" font-size="62%">2</tspan><tspan font-style="italic">S</tspan>-TiO<tspan baseline-shift="-1.8" font-size="62%">2</tspan></text>
<text x="590.2" y="115.1" font-family='"Liberation Serif", serif' font-size="10" text-anchor="start" font-weight="normal" fill="#222" >4</text>
<text x="596" y="115.1" font-family='"Liberation Serif", serif' font-size="10" text-anchor="start" font-weight="normal" fill="#222" textLength="58.2" lengthAdjust="spacingAndGlyphs" >Ag<tspan baseline-shift="-1.8" font-size="62%">2</tspan><tspan font-style="italic">S</tspan>-MIP-TiO<tspan baseline-shift="-1.8" font-size="62%">2</tspan></text>
<text x="482.3" y="31.2" font-family='"Liberation Serif", serif' font-size="17.5" text-anchor="middle" font-weight="bold" fill="#111" >(c)</text>
<line x1="24.4" y1="366.5" x2="27.6" y2="366.5" stroke="#3a3a3a" stroke-width="1" />
<line x1="24.4" y1="350.97" x2="27.6" y2="350.97" stroke="#3a3a3a" stroke-width="1" />
<line x1="24.4" y1="335.44" x2="27.6" y2="335.44" stroke="#3a3a3a" stroke-width="1" />
<line x1="24.4" y1="319.91" x2="27.6" y2="319.91" stroke="#3a3a3a" stroke-width="1" />
<line x1="24.4" y1="304.38" x2="27.6" y2="304.38" stroke="#3a3a3a" stroke-width="1" />
<line x1="24.4" y1="288.85" x2="27.6" y2="288.85" stroke="#3a3a3a" stroke-width="1" />
<line x1="24.4" y1="273.32" x2="27.6" y2="273.32" stroke="#3a3a3a" stroke-width="1" />
<line x1="24.4" y1="257.79" x2="27.6" y2="257.79" stroke="#3a3a3a" stroke-width="1" />
<line x1="24.4" y1="242.26" x2="27.6" y2="242.26" stroke="#3a3a3a" stroke-width="1" />
<line x1="24.4" y1="226.73" x2="27.6" y2="226.73" stroke="#3a3a3a" stroke-width="1" />
<line x1="24.4" y1="211.2" x2="27.6" y2="211.2" stroke="#3a3a3a" stroke-width="1" />
<text x="23.3" y="370.6" font-family='"Liberation Serif", serif' font-size="10" text-anchor="end" font-weight="normal" fill="#222" >0.0</text>
<text x="23.3" y="339.3" font-family='"Liberation Serif", serif' font-size="10" text-anchor="end" font-weight="normal" fill="#222" >0.2</text>
<text x="23.3" y="307.8" font-family='"Liberation Serif", serif' font-size="10" text-anchor="end" font-weight="normal" fill="#222" >0.4</text>
<text x="23.3" y="277.8" font-family='"Liberation Serif", serif' font-size="10" text-anchor="end" font-weight="normal" fill="#222" >0.6</text>
<text x="23.3" y="248.3" font-family='"Liberation Serif", serif' font-size="10" text-anchor="end" font-weight="normal" fill="#222" >0.8</text>
<text x="23.3" y="217" font-family='"Liberation Serif", serif' font-size="10" text-anchor="end" font-weight="normal" fill="#222" >1.0</text>
<line x1="45.2" y1="366.5" x2="45.2" y2="369" stroke="#3a3a3a" stroke-width="1" />
<line x1="63.28" y1="366.5" x2="63.28" y2="368" stroke="#3a3a3a" stroke-width="1" />
<line x1="81.35" y1="366.5" x2="81.35" y2="369" stroke="#3a3a3a" stroke-width="1" />
<line x1="99.42" y1="366.5" x2="99.42" y2="368" stroke="#3a3a3a" stroke-width="1" />
<line x1="117.5" y1="366.5" x2="117.5" y2="369" stroke="#3a3a3a" stroke-width="1" />
<line x1="135.57" y1="366.5" x2="135.57" y2="368" stroke="#3a3a3a" stroke-width="1" />
<line x1="153.65" y1="366.5" x2="153.65" y2="369" stroke="#3a3a3a" stroke-width="1" />
<line x1="171.72" y1="366.5" x2="171.72" y2="368" stroke="#3a3a3a" stroke-width="1" />
<line x1="189.8" y1="366.5" x2="189.8" y2="369" stroke="#3a3a3a" stroke-width="1" />
<text x="45.2" y="382.5" font-family='"Liberation Serif", serif' font-size="9.5" text-anchor="middle" font-weight="normal" fill="#222" >0.0</text>
<text x="81.35" y="382.5" font-family='"Liberation Serif", serif' font-size="9.5" text-anchor="middle" font-weight="normal" fill="#222" >0.5</text>
<text x="117.9" y="382.5" font-family='"Liberation Serif", serif' font-size="9.5" text-anchor="middle" font-weight="normal" fill="#222" >1.0</text>
<text x="155.85" y="382.5" font-family='"Liberation Serif", serif' font-size="9.5" text-anchor="middle" font-weight="normal" fill="#222" >1.5</text>
<text x="191" y="382.5" font-family='"Liberation Serif", serif' font-size="9.5" text-anchor="middle" font-weight="normal" fill="#222" >2.0</text>
<text x="98.6" y="393.5" font-family='"Liberation Serif", serif' font-size="10" text-anchor="middle" font-weight="normal" fill="#222" textLength="33.2" lengthAdjust="spacingAndGlyphs" >Tim e(h)</text>
<text x="8.6" y="300" font-family='"Liberation Serif", serif' font-size="10" text-anchor="middle" font-weight="normal" fill="#222" textLength="47.3" lengthAdjust="spacingAndGlyphs" transform="rotate(-90 8.6 300)" >Absorbance</text>
<polyline points="45.3,234.9 81.2,235.7 117.4,237.6 153.5,238.4 189.7,238.4" fill="none" stroke="#ff2020" stroke-width="1" stroke-linejoin="round" />
<rect x="43.1" y="232.7" width="4.4" height="4.4" fill="#ee0000"/>
<rect x="79" y="233.5" width="4.4" height="4.4" fill="#ee0000"/>
<rect x="115.2" y="235.4" width="4.4" height="4.4" fill="#ee0000"/>
<rect x="151.3" y="236.2" width="4.4" height="4.4" fill="#ee0000"/>
<rect x="187.5" y="236.2" width="4.4" height="4.4" fill="#ee0000"/>
<polyline points="45.3,235.7 81.2,230.3 117.4,230.8 153.5,230.8 189.7,231" fill="none" stroke="#4a7ab8" stroke-width="1" stroke-linejoin="round" />
<circle cx="45.3" cy="235.7" r="2.4" fill="#2e5f9e"/>
<circle cx="81.2" cy="230.3" r="2.4" fill="#2e5f9e"/>
<circle cx="117.4" cy="230.8" r="2.4" fill="#2e5f9e"/>
<circle cx="153.5" cy="230.8" r="2.4" fill="#2e5f9e"/>
<circle cx="189.7" cy="231" r="2.4" fill="#2e5f9e"/>
<rect x="27.6" y="211.2" width="180.1" height="155.3" fill="none" stroke="#3a3a3a" stroke-width="1.1"/>
<line x1="114.6" y1="330.2" x2="140" y2="330.2" stroke="#ff2020" stroke-width="1.2" />
<rect x="125.4" y="328" width="4.4" height="4.4" fill="#ee0000"/>
<line x1="114.6" y1="345.4" x2="140" y2="345.4" stroke="#4a7ab8" stroke-width="1.2" />
<circle cx="127.6" cy="345.4" r="2.4" fill="#2e5f9e"/>
<text x="96.6" y="334.9" font-family='"Liberation Serif", serif' font-size="10" text-anchor="end" font-weight="normal" fill="#222" textLength="17" lengthAdjust="spacingAndGlyphs" >TiO<tspan baseline-shift="-1.8" font-size="62%">2</tspan></text>
<text x="97.4" y="348.3" font-family='"Liberation Serif", serif' font-size="10" text-anchor="end" font-weight="normal" fill="#222" textLength="58.6" lengthAdjust="spacingAndGlyphs" >Ag<tspan baseline-shift="-1.8" font-size="62%">2</tspan><tspan font-style="italic">S</tspan>-MIP-TiO<tspan baseline-shift="-1.8" font-size="62%">2</tspan></text>
<text x="194" y="272" font-family='"Liberation Serif", serif' font-size="17.5" text-anchor="middle" font-weight="bold" fill="#111" >(d)</text>
<line x1="244.7" y1="367" x2="247.2" y2="367" stroke="#3a3a3a" stroke-width="1" />
<line x1="245.7" y1="355.33" x2="247.2" y2="355.33" stroke="#3a3a3a" stroke-width="1" />
<line x1="244.7" y1="343.67" x2="247.2" y2="343.67" stroke="#3a3a3a" stroke-width="1" />
<line x1="245.7" y1="332" x2="247.2" y2="332" stroke="#3a3a3a" stroke-width="1" />
<line x1="244.7" y1="320.33" x2="247.2" y2="320.33" stroke="#3a3a3a" stroke-width="1" />
<line x1="245.7" y1="308.67" x2="247.2" y2="308.67" stroke="#3a3a3a" stroke-width="1" />
<line x1="244.7" y1="297" x2="247.2" y2="297" stroke="#3a3a3a" stroke-width="1" />
<line x1="245.7" y1="285.33" x2="247.2" y2="285.33" stroke="#3a3a3a" stroke-width="1" />
<line x1="244.7" y1="273.67" x2="247.2" y2="273.67" stroke="#3a3a3a" stroke-width="1" />
<line x1="245.7" y1="262" x2="247.2" y2="262" stroke="#3a3a3a" stroke-width="1" />
<line x1="244.7" y1="250.33" x2="247.2" y2="250.33" stroke="#3a3a3a" stroke-width="1" />
<line x1="245.7" y1="238.67" x2="247.2" y2="238.67" stroke="#3a3a3a" stroke-width="1" />
<line x1="244.7" y1="227" x2="247.2" y2="227" stroke="#3a3a3a" stroke-width="1" />
<line x1="245.7" y1="215.33" x2="247.2" y2="215.33" stroke="#3a3a3a" stroke-width="1" />
<text x="243" y="370.3" font-family='"Liberation Serif", serif' font-size="9.5" text-anchor="end" font-weight="normal" fill="#222" >0</text>
<text x="243" y="346.97" font-family='"Liberation Serif", serif' font-size="9.5" text-anchor="end" font-weight="normal" fill="#222" >20</text>
<text x="243" y="323.63" font-family='"Liberation Serif", serif' font-size="9.5" text-anchor="end" font-weight="normal" fill="#222" >40</text>
<text x="243" y="300.3" font-family='"Liberation Serif", serif' font-size="9.5" text-anchor="end" font-weight="normal" fill="#222" >60</text>
<text x="243" y="276.97" font-family='"Liberation Serif", serif' font-size="9.5" text-anchor="end" font-weight="normal" fill="#222" >80</text>
<text x="243" y="253.63" font-family='"Liberation Serif", serif' font-size="9.5" text-anchor="end" font-weight="normal" fill="#222" >100</text>
<text x="243" y="230.3" font-family='"Liberation Serif", serif' font-size="9.5" text-anchor="end" font-weight="normal" fill="#222" >120</text>
<line x1="265.2" y1="367" x2="265.2" y2="369.5" stroke="#3a3a3a" stroke-width="1" />
<line x1="283.27" y1="367" x2="283.27" y2="368.5" stroke="#3a3a3a" stroke-width="1" />
<line x1="301.35" y1="367" x2="301.35" y2="369.5" stroke="#3a3a3a" stroke-width="1" />
<line x1="319.42" y1="367" x2="319.42" y2="368.5" stroke="#3a3a3a" stroke-width="1" />
<line x1="337.5" y1="367" x2="337.5" y2="369.5" stroke="#3a3a3a" stroke-width="1" />
<line x1="355.57" y1="367" x2="355.57" y2="368.5" stroke="#3a3a3a" stroke-width="1" />
<line x1="373.65" y1="367" x2="373.65" y2="369.5" stroke="#3a3a3a" stroke-width="1" />
<line x1="391.72" y1="367" x2="391.72" y2="368.5" stroke="#3a3a3a" stroke-width="1" />
<line x1="409.8" y1="367" x2="409.8" y2="369.5" stroke="#3a3a3a" stroke-width="1" />
<text x="267.5" y="382.2" font-family='"Liberation Serif", serif' font-size="9.5" text-anchor="middle" font-weight="normal" fill="#222" >0.0</text>
<text x="301.35" y="382.2" font-family='"Liberation Serif", serif' font-size="9.5" text-anchor="middle" font-weight="normal" fill="#222" >0.5</text>
<text x="338.7" y="382.2" font-family='"Liberation Serif", serif' font-size="9.5" text-anchor="middle" font-weight="normal" fill="#222" >1.0</text>
<text x="374.45" y="382.2" font-family='"Liberation Serif", serif' font-size="9.5" text-anchor="middle" font-weight="normal" fill="#222" >1.5</text>
<text x="409.8" y="382.2" font-family='"Liberation Serif", serif' font-size="9.5" text-anchor="middle" font-weight="normal" fill="#222" >2.0</text>
<text x="328.1" y="394.5" font-family='"Liberation Serif", serif' font-size="10" text-anchor="middle" font-weight="normal" fill="#222" textLength="35.2" lengthAdjust="spacingAndGlyphs" >Tim e (h)</text>
<text x="229.4" y="311.9" font-family='"Liberation Serif", serif' font-size="10" text-anchor="middle" font-weight="normal" fill="#222" textLength="85.4" lengthAdjust="spacingAndGlyphs" transform="rotate(-90 229.4 311.9)" >Conductivity(μS/cm)</text>
<polyline points="265,318 301.6,223.9 337.6,238.2 373.8,250.1 410.6,242.7" fill="none" stroke="#3a6fae" stroke-width="1" stroke-linejoin="round" />
<circle cx="265" cy="318" r="2.2" fill="#2e5f9e"/>
<circle cx="301.6" cy="223.9" r="2.2" fill="#2e5f9e"/>
<circle cx="337.6" cy="238.2" r="2.2" fill="#2e5f9e"/>
<circle cx="373.8" cy="250.1" r="2.2" fill="#2e5f9e"/>
<circle cx="410.6" cy="242.7" r="2.2" fill="#2e5f9e"/>
<polyline points="265,357.9 301.4,353.1 337.9,355.7 374.3,355.7 410.7,353.1" fill="none" stroke="#ff2020" stroke-width="1" stroke-linejoin="round" />
<rect x="263" y="355.9" width="4" height="4" fill="#ee0000"/>
<rect x="299.4" y="351.1" width="4" height="4" fill="#ee0000"/>
<rect x="335.9" y="353.7" width="4" height="4" fill="#ee0000"/>
<rect x="372.3" y="353.7" width="4" height="4" fill="#ee0000"/>
<rect x="408.7" y="351.1" width="4" height="4" fill="#ee0000"/>
<rect x="247.2" y="215.1" width="181.40000000000003" height="151.9" fill="none" stroke="#3a3a3a" stroke-width="1.1"/>
<line x1="306.7" y1="300.4" x2="327.7" y2="300.4" stroke="#ff2020" stroke-width="1.2" />
<rect x="314.9" y="298.1" width="4.6" height="4.6" fill="#ee0000"/>
<line x1="306.7" y1="313" x2="327.7" y2="313" stroke="#3a6fae" stroke-width="1.2" />
<circle cx="317.2" cy="313" r="2.4" fill="#2e5f9e"/>
<text x="350.5" y="304.3" font-family='"Liberation Serif", serif' font-size="10" text-anchor="start" font-weight="normal" fill="#222" textLength="17" lengthAdjust="spacingAndGlyphs" >TiO<tspan baseline-shift="-1.8" font-size="62%">2</tspan></text>
<text x="345.9" y="317.4" font-family='"Liberation Serif", serif' font-size="10" text-anchor="start" font-weight="normal" fill="#222" textLength="58.3" lengthAdjust="spacingAndGlyphs" >Ag<tspan baseline-shift="-1.8" font-size="62%">2</tspan><tspan font-style="italic">S</tspan>-MIP-TiO<tspan baseline-shift="-1.8" font-size="62%">2</tspan></text>
<text x="408" y="272.7" font-family='"Liberation Serif", serif' font-size="17.5" text-anchor="middle" font-weight="bold" fill="#111" >(e)</text>
<rect x="474.5" y="214.4" width="51.299999999999955" height="152.1" fill="#b9dfe2"/>
<line x1="472" y1="353.4" x2="474.5" y2="353.4" stroke="#3a3a3a" stroke-width="1" />
<line x1="473" y1="340.78" x2="474.5" y2="340.78" stroke="#3a3a3a" stroke-width="1" />
<line x1="472" y1="328.16" x2="474.5" y2="328.16" stroke="#3a3a3a" stroke-width="1" />
<line x1="473" y1="315.54" x2="474.5" y2="315.54" stroke="#3a3a3a" stroke-width="1" />
<line x1="472" y1="302.92" x2="474.5" y2="302.92" stroke="#3a3a3a" stroke-width="1" />
<line x1="473" y1="290.3" x2="474.5" y2="290.3" stroke="#3a3a3a" stroke-width="1" />
<line x1="472" y1="277.68" x2="474.5" y2="277.68" stroke="#3a3a3a" stroke-width="1" />
<line x1="473" y1="265.06" x2="474.5" y2="265.06" stroke="#3a3a3a" stroke-width="1" />
<line x1="472" y1="252.44" x2="474.5" y2="252.44" stroke="#3a3a3a" stroke-width="1" />
<line x1="473" y1="239.82" x2="474.5" y2="239.82" stroke="#3a3a3a" stroke-width="1" />
<line x1="472" y1="227.2" x2="474.5" y2="227.2" stroke="#3a3a3a" stroke-width="1" />
<line x1="473" y1="359.71" x2="474.5" y2="359.71" stroke="#3a3a3a" stroke-width="1" />
<line x1="473" y1="220.89" x2="474.5" y2="220.89" stroke="#3a3a3a" stroke-width="1" />
<text x="467.6" y="356.7" font-family='"Liberation Serif", serif' font-size="9.5" text-anchor="end" font-weight="normal" fill="#222" >0.0</text>
<text x="467.6" y="331.46" font-family='"Liberation Serif", serif' font-size="9.5" text-anchor="end" font-weight="normal" fill="#222" >0.2</text>
<text x="467.6" y="306.22" font-family='"Liberation Serif", serif' font-size="9.5" text-anchor="end" font-weight="normal" fill="#222" >0.4</text>
<text x="467.6" y="280.98" font-family='"Liberation Serif", serif' font-size="9.5" text-anchor="end" font-weight="normal" fill="#222" >0.6</text>
<text x="467.6" y="255.74" font-family='"Liberation Serif", serif' font-size="9.5" text-anchor="end" font-weight="normal" fill="#222" >0.8</text>
<text x="467.6" y="230.5" font-family='"Liberation Serif", serif' font-size="9.5" text-anchor="end" font-weight="normal" fill="#222" >1.0</text>
<line x1="491.1" y1="366.5" x2="491.1" y2="369" stroke="#3a3a3a" stroke-width="1" />
<line x1="507.85" y1="366.5" x2="507.85" y2="368" stroke="#3a3a3a" stroke-width="1" />
<line x1="524.6" y1="366.5" x2="524.6" y2="369" stroke="#3a3a3a" stroke-width="1" />
<line x1="541.35" y1="366.5" x2="541.35" y2="368" stroke="#3a3a3a" stroke-width="1" />
<line x1="558.1" y1="366.5" x2="558.1" y2="369" stroke="#3a3a3a" stroke-width="1" />
<line x1="574.85" y1="366.5" x2="574.85" y2="368" stroke="#3a3a3a" stroke-width="1" />
<line x1="591.6" y1="366.5" x2="591.6" y2="369" stroke="#3a3a3a" stroke-width="1" />
<line x1="608.35" y1="366.5" x2="608.35" y2="368" stroke="#3a3a3a" stroke-width="1" />
<line x1="625.1" y1="366.5" x2="625.1" y2="369" stroke="#3a3a3a" stroke-width="1" />
<line x1="641.85" y1="366.5" x2="641.85" y2="368" stroke="#3a3a3a" stroke-width="1" />
<line x1="658.6" y1="366.5" x2="658.6" y2="369" stroke="#3a3a3a" stroke-width="1" />
<text x="486.3" y="381.6" font-family='"Liberation Serif", serif' font-size="9.5" text-anchor="middle" font-weight="normal" fill="#222" >0.0</text>
<text x="524.6" y="381.6" font-family='"Liberation Serif", serif' font-size="9.5" text-anchor="middle" font-weight="normal" fill="#222" >0.5</text>
<text x="558.7" y="381.6" font-family='"Liberation Serif", serif' font-size="9.5" text-anchor="middle" font-weight="normal" fill="#222" >1.0</text>
<text x="592.2" y="381.6" font-family='"Liberation Serif", serif' font-size="9.5" text-anchor="middle" font-weight="normal" fill="#222" >1.5</text>
<text x="624.7" y="381.6" font-family='"Liberation Serif", serif' font-size="9.5" text-anchor="middle" font-weight="normal" fill="#222" >2.0</text>
<text x="658.6" y="381.6" font-family='"Liberation Serif", serif' font-size="9.5" text-anchor="middle" font-weight="normal" fill="#222" >2.5</text>
<text x="569.3" y="393.8" font-family='"Liberation Serif", serif' font-size="10" text-anchor="middle" font-weight="normal" fill="#222" textLength="35" lengthAdjust="spacingAndGlyphs" >Time (h)</text>
<text x="454.2" y="300" font-family='"Liberation Serif", serif' font-size="10" text-anchor="middle" font-weight="normal" fill="#222" textLength="48.2" lengthAdjust="spacingAndGlyphs" transform="rotate(-90 454.2 300)" >Absorbance</text>
<polyline points="490.6,228.4 524.4,228.8 557.8,230.1 591.6,228.4 625,238.7 658.4,225.8" fill="none" stroke="#ffc000" stroke-width="1" stroke-linejoin="round" />
<polygon points="490.6,225.53 493.35,230.4 487.85,230.4" fill="#ffc000"/>
<polygon points="524.4,225.93 527.15,230.8 521.65,230.8" fill="#ffc000"/>
<polygon points="557.8,227.22 560.55,232.1 555.05,232.1" fill="#ffc000"/>
<polygon points="591.6,225.53 594.35,230.4 588.85,230.4" fill="#ffc000"/>
<polygon points="625,235.82 627.75,240.7 622.25,240.7" fill="#ffc000"/>
<polygon points="658.4,222.93 661.15,227.8 655.65,227.8" fill="#ffc000"/>
<polyline points="490.6,233.6 524.4,233.6 557.8,236.6 591.6,237.8 625,239.1 658.4,240" fill="none" stroke="#ee1111" stroke-width="1" stroke-linejoin="round" />
<rect x="488.3" y="231.3" width="4.6" height="4.6" fill="#ee1111"/>
<rect x="522.1" y="231.3" width="4.6" height="4.6" fill="#ee1111"/>
<rect x="555.5" y="234.3" width="4.6" height="4.6" fill="#ee1111"/>
<rect x="589.3" y="235.5" width="4.6" height="4.6" fill="#ee1111"/>
<rect x="622.7" y="236.8" width="4.6" height="4.6" fill="#ee1111"/>
<rect x="656.1" y="237.7" width="4.6" height="4.6" fill="#ee1111"/>
<polyline points="490.6,234.4 524.4,234.8 557.8,239.1 591.6,240.8 625,241.3 658.4,240.8" fill="none" stroke="#2e64a4" stroke-width="1" stroke-linejoin="round" />
<circle cx="490.6" cy="234.4" r="2.4" fill="#2e64a4"/>
<circle cx="524.4" cy="234.8" r="2.4" fill="#2e64a4"/>
<circle cx="557.8" cy="239.1" r="2.4" fill="#2e64a4"/>
<circle cx="591.6" cy="240.8" r="2.4" fill="#2e64a4"/>
<circle cx="625" cy="241.3" r="2.4" fill="#2e64a4"/>
<circle cx="658.4" cy="240.8" r="2.4" fill="#2e64a4"/>
<polyline points="490.6,234.8 524.4,236.6 557.8,305.1 591.6,335 625,345.8 658.4,348.8" fill="none" stroke="#3cc46e" stroke-width="1" stroke-linejoin="round" />
<polygon points="490.6,237.68 493.35,232.8 487.85,232.8" fill="#3cc46e"/>
<polygon points="524.4,239.47 527.15,234.6 521.65,234.6" fill="#3cc46e"/>
<polygon points="557.8,307.98 560.55,303.1 555.05,303.1" fill="#3cc46e"/>
<polygon points="591.6,337.88 594.35,333 588.85,333" fill="#3cc46e"/>
<polygon points="625,348.68 627.75,343.8 622.25,343.8" fill="#3cc46e"/>
<polygon points="658.4,351.68 661.15,346.8 655.65,346.8" fill="#3cc46e"/>
<rect x="474.5" y="214.4" width="190.89999999999998" height="152.1" fill="none" stroke="#3a3a3a" stroke-width="1.1"/>
<rect x="595" y="265.3" width="54.5" height="35" fill="#fff" stroke="#333" stroke-width="0.9"/>
<line x1="595.5" y1="270.2" x2="611" y2="270.2" stroke="#ee1111" stroke-width="1.1" />
<rect x="601.1" y="267.9" width="4.6" height="4.6" fill="#ee1111"/>
<text x="612.7" y="272.9" font-family='"Liberation Serif", serif' font-size="8.2" text-anchor="start" font-weight="bold" fill="#101020" textLength="22" lengthAdjust="spacingAndGlyphs" >Ethanol</text>
<line x1="595.5" y1="278.7" x2="611" y2="278.7" stroke="#2e64a4" stroke-width="1.1" />
<circle cx="603.4" cy="278.7" r="2.3" fill="#2e64a4"/>
<text x="612.7" y="281.4" font-family='"Liberation Serif", serif' font-size="8.2" text-anchor="start" font-weight="bold" fill="#101020" textLength="33" lengthAdjust="spacingAndGlyphs" >Isopropanol</text>
<line x1="595.5" y1="287.2" x2="611" y2="287.2" stroke="#ffc000" stroke-width="1.1" />
<polygon points="603.4,284.56 605.93,289.04 600.87,289.04" fill="#ffc000"/>
<text x="612.7" y="289.9" font-family='"Liberation Serif", serif' font-size="8.2" text-anchor="start" font-weight="bold" fill="#101020" textLength="18" lengthAdjust="spacingAndGlyphs" >EDTA</text>
<line x1="595.5" y1="295.7" x2="611" y2="295.7" stroke="#3cc46e" stroke-width="1.1" />
<polygon points="603.4,298.34 605.93,293.86 600.87,293.86" fill="#3cc46e"/>
<text x="612.7" y="298.4" font-family='"Liberation Serif", serif' font-size="8.2" text-anchor="start" font-weight="bold" fill="#101020" textLength="35.5" lengthAdjust="spacingAndGlyphs" >No quencher</text>
<text x="511.3" y="354" font-family='"Liberation Serif", serif' font-size="9.5" text-anchor="middle" font-weight="normal" fill="#222" textLength="18.3" lengthAdjust="spacingAndGlyphs" >Dark</text>
<text x="538.2" y="354" font-family='"Liberation Serif", serif' font-size="9.5" text-anchor="middle" font-weight="normal" fill="#222" textLength="19" lengthAdjust="spacingAndGlyphs" >Light</text>
<line x1="521.6" y1="359.6" x2="505" y2="359.6" stroke="#111" stroke-width="1.1" />
<polyline points="510,356.1 505,359.6 510,363.1" fill="none" stroke="#111" stroke-width="1.1"/>
<line x1="530.1" y1="359.6" x2="549.1" y2="359.6" stroke="#111" stroke-width="1.1" />
<polyline points="544.1,356.1 549.1,359.6 544.1,363.1" fill="none" stroke="#111" stroke-width="1.1"/>
<text x="494.1" y="271.5" font-family='"Liberation Serif", serif' font-size="17.5" text-anchor="middle" font-weight="bold" fill="#111" >(f)</text>
</svg></body></html>
